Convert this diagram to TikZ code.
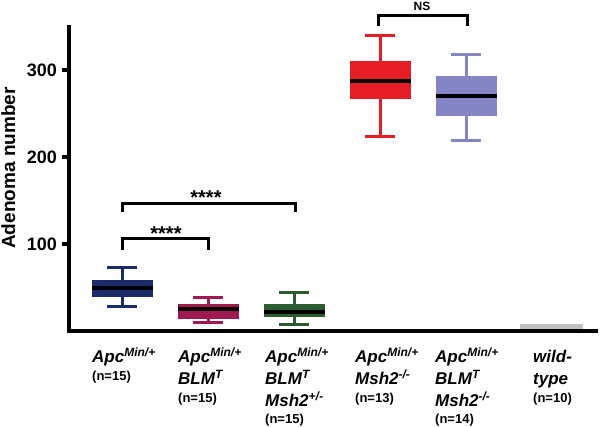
\documentclass[tikz,border=0pt]{standalone}
\usepackage{fontspec}
\setmainfont{Liberation Sans}
\definecolor{cnavy}{HTML}{1B2A6B}
\definecolor{cmaroon}{HTML}{9E1A4E}
\definecolor{cgreen}{HTML}{2B5B2E}
\definecolor{cred}{HTML}{E51E25}
\definecolor{clav}{HTML}{8585C4}
\definecolor{cgray}{HTML}{C0C0C0}
\newcommand\bxp[7]{% cx, whisker top, box top, median, box bottom, whisker bottom, colour
  \draw[whisk,#7] (#1,#2) -- (#1,#3) (#1,#5) -- (#1,#6)
        (#1-15,#2) -- (#1+15,#2) (#1-15,#6) -- (#1+15,#6);
  \fill[#7] (#1-30.5,#3) rectangle (#1+30.5,#5);
  \draw[medln] (#1-30.5,#4) -- (#1+30.5,#4);
}
\newcommand\sps[1]{\raisebox{5.5pt}{\fontsize{12}{12}\selectfont #1}}
\begin{document}
\begin{tikzpicture}[x=1pt,y=-1pt,
  axisln/.style={line width=4pt,black},
  whisk/.style={line width=3pt},
  medln/.style={line width=3.2pt,black},
  brk/.style={line width=3pt,black},
  gt/.style={font=\fontsize{17}{17}\selectfont\bfseries\itshape,anchor=base west,inner sep=0pt},
  nn/.style={font=\fontsize{13}{13}\selectfont\bfseries,anchor=base west,inner sep=0pt},
  tl/.style={font=\fontsize{18}{18}\selectfont\bfseries,anchor=base east,inner sep=0pt},
  star/.style={font=\fontsize{20}{20}\selectfont\bfseries,anchor=base,inner sep=0pt}]
\useasboundingbox (0,0) rectangle (600,426);
\fill[white] (0,0) rectangle (600,426);
% axes
\draw[axisln] (69,25) -- (69,333);
\draw[axisln] (67,331) -- (598,331);
\foreach \yy/\lab in {70/300,157/200,244/100}{
  \draw[axisln] (62,\yy) -- (69,\yy);
  \node[tl] (t\lab) at (57,\yy+6.4) {\lab};
}
\node[font=\fontsize{19}{19}\selectfont\bfseries,rotate=90,anchor=base,inner sep=0pt] (ylab) at (15,168) {Adenoma number};
% boxes
\bxp{122}{267}{280}{288}{297}{306}{cnavy}
\bxp{208}{297}{304}{309}{319}{322}{cmaroon}
\bxp{294}{292}{304}{312}{317}{324}{cgreen}
\bxp{380}{35}{61}{81}{99}{136}{cred}
\bxp{466}{54}{76}{96}{116}{140}{clav}
\fill[cgray] (520,324) rectangle (583,329);
% brackets
\draw[brk] (122,212) -- (122,203) -- (295,203) -- (295,212);
\draw[brk] (122,250) -- (122,238) -- (208,238) -- (208,250);
\draw[brk] (378,26) -- (378,15) -- (467,15) -- (467,26);
\node[star] (s1) at (206,204.5) {****};
\node[star] (s2) at (166,240.5) {****};
\node[font=\fontsize{12}{12}\selectfont\bfseries,anchor=base,inner sep=0pt] (ns) at (422,10.3) {NS};
% genotype labels
\node[gt] (a1) at (92,362) {Apc\sps{Min/+}};
\node[nn] (n1) at (92,380) {(n=15)};
\node[gt] (a2) at (178,362) {Apc\sps{Min/+}};
\node[gt] (b2) at (178,384) {BLM\sps{T}};
\node[nn] (n2) at (178,402) {(n=15)};
\node[gt] (a3) at (265,362) {Apc\sps{Min/+}};
\node[gt] (b3) at (265,384) {BLM\sps{T}};
\node[gt] (m3) at (265,406) {Msh2\sps{+/-}};
\node[nn] (n3) at (265,423) {(n=15)};
\node[gt] (a4) at (355,362) {Apc\sps{Min/+}};
\node[gt] (m4) at (355,384) {Msh2\sps{-/-}};
\node[nn] (n4) at (355,402) {(n=13)};
\node[gt] (a5) at (435,362) {Apc\sps{Min/+}};
\node[gt] (b5) at (435,384) {BLM\sps{T}};
\node[gt] (m5) at (435,406) {Msh2\sps{-/-}};
\node[nn] (n5) at (435,423) {(n=14)};
\node[gt] (a6) at (533,362) {wild-};
\node[gt] (b6) at (533,384) {type};
\node[nn] (n6) at (533,402) {(n=10)};
\end{tikzpicture}
\end{document}
